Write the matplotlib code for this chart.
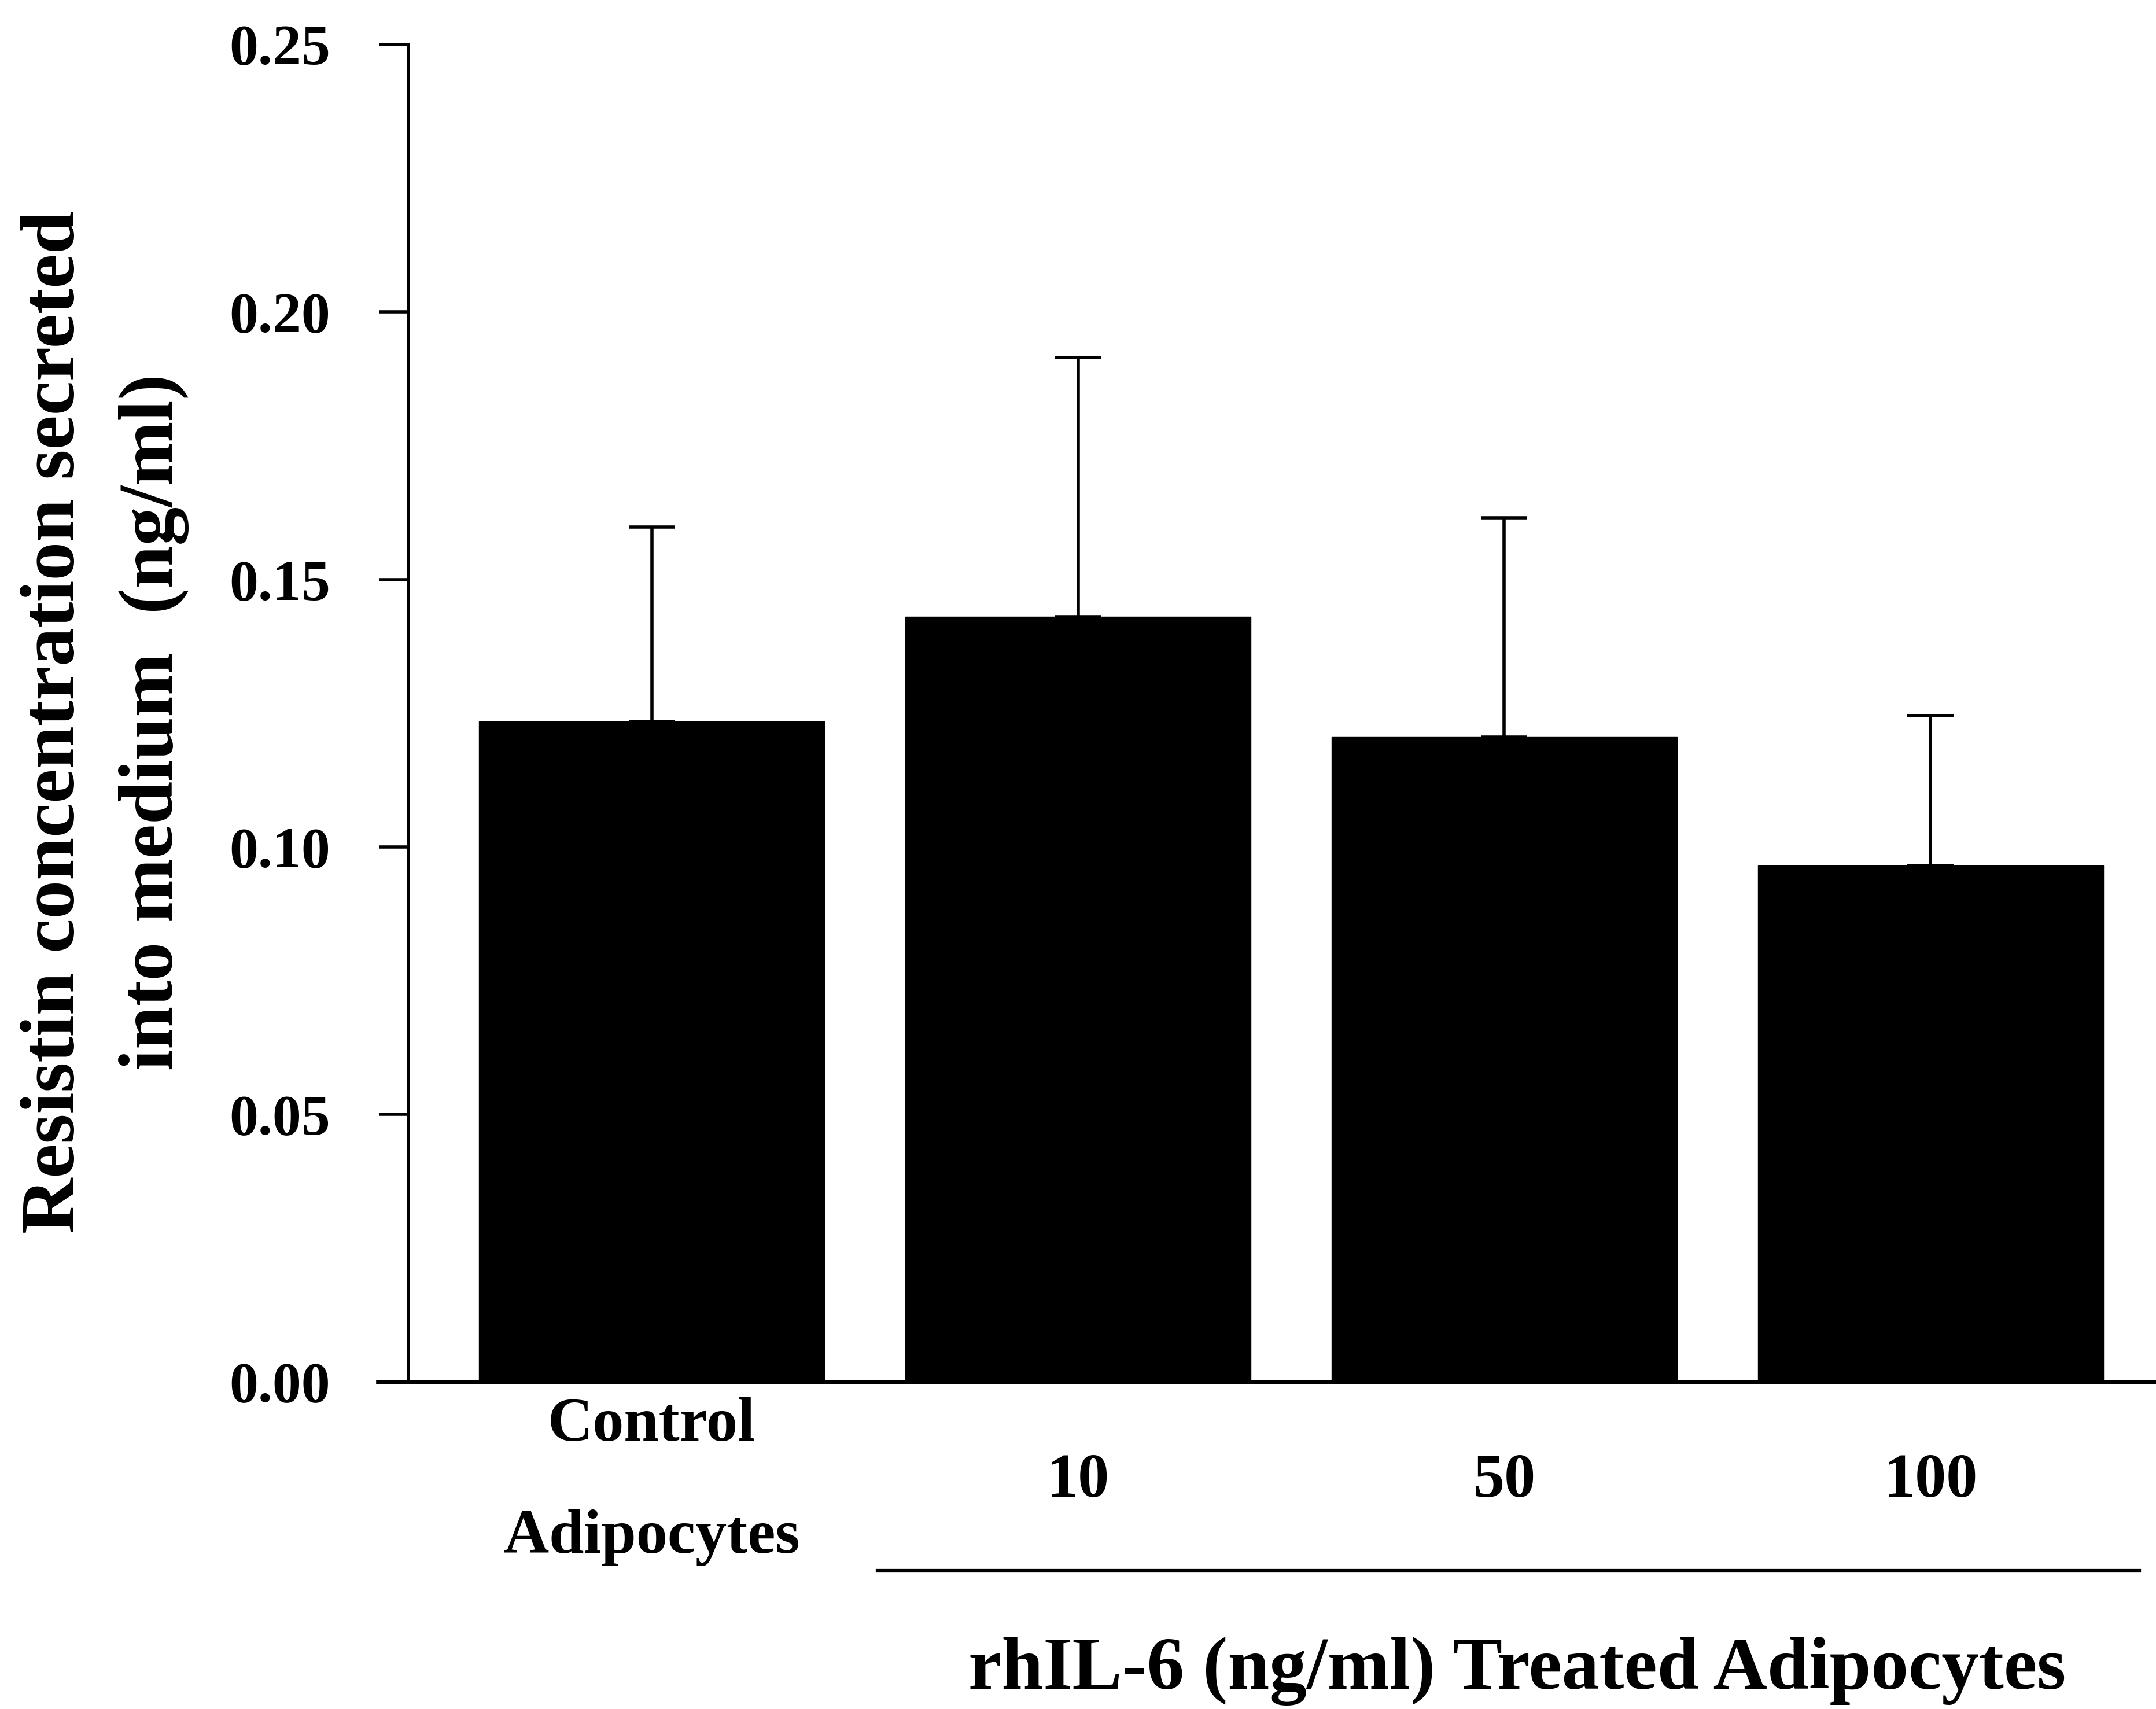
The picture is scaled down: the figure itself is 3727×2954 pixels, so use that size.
"""
Resistin secreted into medium by adipocytes treated with rhIL-6
"""

import matplotlib
matplotlib.use("Agg")
import matplotlib.pyplot as plt
import matplotlib.transforms as mtransforms
import numpy as np

# Data
categories = ["Control\nAdipocytes", "10", "50", "100"]
resistin = [0.1235, 0.1430, 0.1205, 0.0965]
resistin_err = [0.0363, 0.0485, 0.0410, 0.0280]
y_ticks = [0.00, 0.05, 0.10, 0.15, 0.20, 0.25]

plt.rcParams['font.family'] = ['Liberation Serif', 'DejaVu Serif']
plt.rcParams['font.weight'] = 'bold'

fig = plt.figure(figsize=(37.27, 29.54), dpi=100)
ax = fig.add_axes([0.1754, 0.1913, 0.8246, 0.974 - 0.1913])

x = np.arange(len(categories))
ax.bar(x, resistin, width=0.81, color='black', edgecolor='black', zorder=2)
ax.errorbar(x, resistin, yerr=[np.zeros(len(resistin)), resistin_err],
            fmt='none', ecolor='black', elinewidth=4, capsize=29,
            capthick=4, zorder=1)

ax.set_xlim(-0.642, 3.529)
ax.set_ylim(0, 0.25)

for side in ['top', 'right']:
    ax.spines[side].set_visible(False)
ax.spines['left'].set_position(('axes', 0.017))
ax.spines['left'].set_linewidth(4)
ax.spines['bottom'].set_linewidth(5.5)

ax.set_yticks(y_ticks)
ax.set_yticklabels([f"{v:.2f}" for v in y_ticks])
ax.tick_params(axis='y', direction='out', length=37, width=4, pad=60,
               labelsize=72)
ax.set_xticks(x)
ax.set_xticklabels(categories, fontsize=78, linespacing=2.27, va='center')
ax.tick_params(axis='x', length=0, pad=124)

fig.text(0.0485, 0.5776, "Resistin concentration secreted\ninto medium  (ng/ml)",
         rotation=90, ha='center', va='center', fontsize=96,
         fontweight='bold', linespacing=1.53)

# bracket under treated groups
trans = mtransforms.blended_transform_factory(ax.transData, ax.transAxes)
ax.plot([x[1] - 0.47, x[3] + 0.49], [-0.141, -0.141], color='black',
        lw=4.5, transform=trans, clip_on=False)
ax.text((x[1] + x[3]) / 2 + 0.03, -0.216, "rhIL-6 (ng/ml) Treated Adipocytes",
        transform=trans, ha='center', va='center', fontsize=93,
        fontweight='bold')

fig.savefig("out.png", dpi=100, facecolor='white')
